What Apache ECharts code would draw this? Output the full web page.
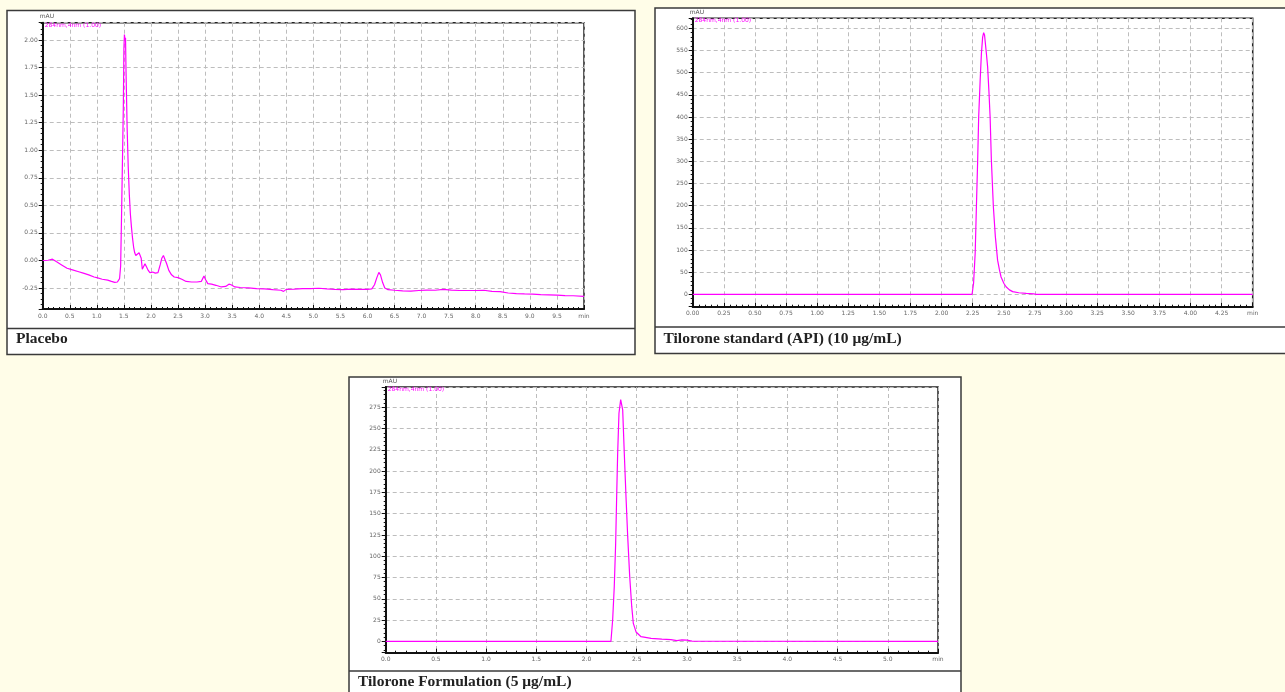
<!DOCTYPE html>
<html>
<head>
<meta charset="utf-8">
<script src="https://cdn.jsdelivr.net/npm/echarts@6/dist/echarts.min.js"></script>
<style>
html,body{margin:0;padding:0;background:#fffde8;}
#chart{width:1285px;height:692px;}
</style>
</head>
<body>
<div id="chart"></div>
<script>
// ---------- Data ----------
const captions = ['Placebo', 'Tilorone standard (API) (10 \u03bcg/mL)', 'Tilorone Formulation (5 \u03bcg/mL)'];
const signalName = '284nm,4nm (1.00)';
const unitLabel = 'mAU';
const xUnitLabel = 'min';

// Placebo
const p1Time = [0.00,0.10,0.18,0.25,0.35,0.45,0.55,0.65,0.75,0.85,0.95,1.00,1.10,1.20,1.27,1.33,1.38,1.42,1.44,1.46,1.48,1.49,1.50,1.51,1.52,1.53,1.54,1.56,1.58,1.60,1.62,1.64,1.66,1.68,1.70,1.72,1.75,1.78,1.80,1.82,1.84,1.86,1.89,1.92,1.95,1.98,2.03,2.08,2.13,2.17,2.20,2.23,2.26,2.29,2.33,2.38,2.43,2.50,2.57,2.65,2.75,2.85,2.93,2.96,2.98,3.01,3.05,3.12,3.20,3.30,3.38,3.44,3.48,3.55,3.65,3.80,3.95,4.10,4.25,4.40,4.45,4.50,4.65,4.80,4.95,5.10,5.25,5.40,5.55,5.70,5.85,6.00,6.08,6.13,6.17,6.21,6.24,6.28,6.32,6.38,6.50,6.65,6.80,6.95,7.10,7.25,7.40,7.55,7.70,7.85,8.00,8.15,8.30,8.45,8.60,8.75,8.90,9.05,9.20,9.35,9.50,9.65,9.80,10.00];
const p1Signal = [0.000,0.002,0.012,-0.010,-0.040,-0.070,-0.085,-0.100,-0.115,-0.130,-0.150,-0.155,-0.170,-0.178,-0.190,-0.198,-0.195,-0.165,-0.050,0.500,1.100,1.400,1.920,2.050,2.000,2.020,1.700,1.200,0.850,0.600,0.420,0.300,0.200,0.120,0.070,0.045,0.035,0.070,0.080,0.020,-0.080,-0.060,-0.030,-0.045,-0.090,-0.110,-0.105,-0.115,-0.110,-0.040,0.020,0.045,0.030,-0.030,-0.090,-0.130,-0.150,-0.155,-0.170,-0.190,-0.195,-0.195,-0.190,-0.160,-0.140,-0.175,-0.210,-0.215,-0.225,-0.240,-0.235,-0.215,-0.220,-0.240,-0.245,-0.248,-0.255,-0.258,-0.265,-0.270,-0.280,-0.262,-0.260,-0.255,-0.255,-0.252,-0.258,-0.262,-0.265,-0.260,-0.262,-0.262,-0.258,-0.220,-0.160,-0.108,-0.130,-0.200,-0.250,-0.265,-0.270,-0.275,-0.278,-0.272,-0.268,-0.270,-0.262,-0.268,-0.272,-0.272,-0.272,-0.270,-0.280,-0.283,-0.295,-0.300,-0.303,-0.305,-0.310,-0.312,-0.315,-0.318,-0.320,-0.325];

// Tilorone standard (API)
const p2Time = [0.00,2.245,2.257,2.27,2.28,2.29,2.298,2.31,2.32,2.33,2.338,2.345,2.36,2.37,2.38,2.39,2.40,2.416,2.432,2.45,2.465,2.478,2.50,2.518,2.545,2.571,2.62,2.68,2.74,2.76,4.50];
const p2Signal = [0,0,25,93,200,303,400,483,543,580,590,585,543,513,460,400,303,198,130,77,55,39,25,17,10,6,3.5,2,1,0,0];

// Tilorone Formulation
const p3Time = [0.00,2.243,2.26,2.276,2.29,2.30,2.31,2.323,2.34,2.36,2.376,2.393,2.41,2.43,2.45,2.466,2.493,2.543,2.643,2.75,2.84,2.90,2.95,3.00,3.05,5.50];
const p3Signal = [0,0,25,64,115,170,221,268,284,272,221,170,123,76,41,21,11,5.4,3.5,2.5,1.9,0.8,1.6,1.4,0.3,0];

// Axis ranges and tick steps
const xRanges = [[0, 10], [0, 4.5], [0, 5.5]];
const xSteps = [0.5, 0.25, 0.5];
const xDecimals = [1, 2, 1];
const yRanges = [[-0.44, 2.157], [-28, 622.5], [-13.4, 298.9]];
const ySteps = [0.25, 50, 25];
const yDecimals = [2, 0, 0];

// ---------- Layout ----------
const grids = [
  {left: 42.7, top: 22.7, right: 1285 - 584, bottom: 692 - 309},
  {left: 692.7, top: 18.3, right: 1285 - 1252.7, bottom: 692 - 306.7},
  {left: 385.7, top: 387, right: 1285 - 938, bottom: 692 - 652.7}
];
const panels = [
  {x: 7, y: 10.5, w: 628, h: 344, sep: 328.5, capX: 16, capY: 339},
  {x: 655, y: 8, w: 640, h: 345.5, sep: 327, capX: 663.5, capY: 338.5},
  {x: 349, y: 377, w: 612, h: 330, sep: 671, capX: 358, capY: 682}
];

const lineColor = '#ff00ff';
const borderColor = '#3a3a3a';

const xAxes = [], yAxes = [], series = [], graphics = [];
const times = [p1Time, p2Time, p3Time];
const signals = [p1Signal, p2Signal, p3Signal];

for (let i = 0; i < 3; i++) {
  const xr = xRanges[i], yr = yRanges[i];
  xAxes.push({
    gridIndex: i, type: 'value', min: xr[0], max: xr[1], interval: xSteps[i],
    axisLine: {show: true, onZero: false, lineStyle: {color: '#111', width: 2}},
    axisTick: {show: true, inside: true, length: 4, lineStyle: {color: '#111', width: 1}},
    minorTick: {show: true, splitNumber: 5, length: 2, lineStyle: {color: '#111', width: 1}},
    splitLine: {show: true, lineStyle: {color: '#bdbdbd', type: [4, 3], width: 1}},
    axisLabel: {
      fontSize: 6, color: '#666', margin: 4, fontFamily: 'DejaVu Sans',
      showMaxLabel: true, showMinLabel: true,
      formatter: (function (mx, d) { return function (v) { return Math.abs(v - mx) < 1e-6 ? xUnitLabel : v.toFixed(d); }; })(xr[1], xDecimals[i])
    }
  });
  yAxes.push({
    gridIndex: i, type: 'value', min: yr[0], max: yr[1],
    minInterval: ySteps[i], maxInterval: ySteps[i], splitNumber: 10,
    axisLine: {show: true, onZero: false, lineStyle: {color: '#111', width: 2}},
    axisTick: {show: true, length: 4, lineStyle: {color: '#111', width: 1}},
    minorTick: {show: true, splitNumber: 5, length: 2, lineStyle: {color: '#111', width: 1}},
    splitLine: {show: true, lineStyle: {color: '#bdbdbd', type: [4, 3], width: 1}},
    axisLabel: {
      fontSize: 6, color: '#666', margin: 5, fontFamily: 'DejaVu Sans',
      showMinLabel: false, showMaxLabel: false,
      formatter: (function (d) { return function (v) { return v.toFixed(d); }; })(yDecimals[i])
    }
  });
  series.push({
    type: 'line', xAxisIndex: i, yAxisIndex: i, showSymbol: false, symbol: 'none',
    lineStyle: {color: lineColor, width: 1.2}, animation: false, z: 3,
    data: times[i].map((t, k) => [t, signals[i][k]])
  });

  const p = panels[i];
  graphics.push({type: 'rect', z: -10, shape: {x: p.x, y: p.y, width: p.w, height: p.h},
    style: {fill: '#ffffff', stroke: borderColor, lineWidth: 1.5}});
  graphics.push({type: 'line', z: -9, shape: {x1: p.x, y1: p.sep, x2: p.x + p.w, y2: p.sep},
    style: {stroke: borderColor, lineWidth: 1.5}});
  graphics.push({type: 'text', z: 10, x: p.capX, y: p.capY,
    style: {text: captions[i], fill: '#222', font: 'bold 15.5px "Liberation Serif"', verticalAlign: 'middle'}});
  const g = grids[i];
  graphics.push({type: 'text', z: 10, x: g.left - 3, y: g.top - 6,
    style: {text: unitLabel, fill: '#555', font: '6px "DejaVu Sans"', verticalAlign: 'middle'}});
  graphics.push({type: 'text', z: 10, x: g.left + 2, y: g.top + 2.5,
    style: {text: signalName, fill: lineColor, font: '6px "DejaVu Sans"', verticalAlign: 'middle'}});
}

const chart = echarts.init(document.getElementById('chart'), null, {renderer: 'canvas'});
chart.setOption({
  animation: false,
  backgroundColor: 'transparent',
  grid: grids.map(g => Object.assign({show: true, backgroundColor: '#ffffff', borderColor: '#222', borderWidth: 1.5}, g)),
  xAxis: xAxes,
  yAxis: yAxes,
  series: series,
  graphic: graphics
});
</script>
</body>
</html>
